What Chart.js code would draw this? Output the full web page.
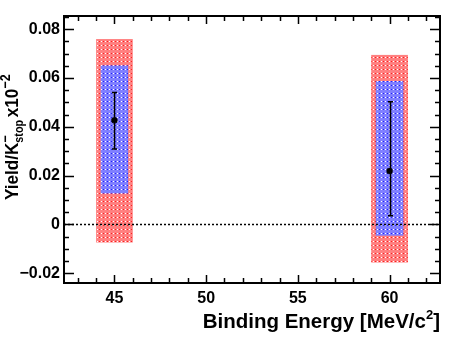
<!DOCTYPE html>
<html>
<head>
<meta charset="utf-8">
<script src="https://cdn.jsdelivr.net/npm/chart.js@4.4.1/dist/chart.umd.min.js"></script>
<style>
  html, body { margin: 0; padding: 0; background: #fff; }
  #wrap { width: 463px; height: 338px; }
</style>
</head>
<body>
<div id="wrap"><canvas id="yieldChart"></canvas></div>
<script>
// binding energies of the two candidates
const energies = [45, 60]
const yields = [0.0427, 0.0219]
const statUp = [0.0114, 0.0284]
const statDown = [0.0118, 0.0183]
// systematic bands (absolute y limits)
const sysOuterTop = [0.0760, 0.0695]
const sysOuterBottom = [-0.0074, -0.0156]
const sysInnerTop = [0.0652, 0.0588]
const sysInnerBottom = [0.0127, -0.0046]
const outerHalfWidth = [1.0, 1.0]
const innerHalfWidth = [0.75, 0.75]

const yTicks = [-0.02, 0, 0.02, 0.04, 0.06, 0.08]
const xTicks = [45, 50, 55, 60]

const FONT = '"Liberation Sans", Arial, Helvetica, sans-serif'

function makePattern(base, dark) {
    const c = document.createElement('canvas')
    c.width = 4; c.height = 4
    const g = c.getContext('2d')
    g.fillStyle = base; g.fillRect(0, 0, 4, 4)
    g.fillStyle = '#ffffff'; g.fillRect(1, 1, 1, 1)
    g.fillStyle = dark; g.fillRect(3, 1, 1, 1)
    return c
}

const boxesPlugin = {
    id: 'boxes',
    beforeDatasetsDraw(chart) {
        const ctx = chart.ctx
        const xs = chart.scales.x, ys = chart.scales.y
        const redPat = ctx.createPattern(makePattern('#ff8080', '#ff2020'), 'repeat')
        const bluePat = ctx.createPattern(makePattern('#8080ff', '#2020ff'), 'repeat')
        ctx.save()
        energies.forEach((e, i) => {
            let x0 = xs.getPixelForValue(e - outerHalfWidth[i])
            let x1 = xs.getPixelForValue(e + outerHalfWidth[i])
            let y0 = ys.getPixelForValue(sysOuterTop[i])
            let y1 = ys.getPixelForValue(sysOuterBottom[i])
            ctx.fillStyle = redPat
            ctx.fillRect(x0, y0, x1 - x0, y1 - y0)
            x0 = xs.getPixelForValue(e - innerHalfWidth[i])
            x1 = xs.getPixelForValue(e + innerHalfWidth[i])
            y0 = ys.getPixelForValue(sysInnerTop[i])
            y1 = ys.getPixelForValue(sysInnerBottom[i])
            ctx.fillStyle = bluePat
            ctx.fillRect(x0, y0, x1 - x0, y1 - y0)
        })
        // dotted zero line
        const yz = Math.round(ys.getPixelForValue(0)) + 0.5
        ctx.strokeStyle = '#000'
        ctx.lineWidth = 1.5
        ctx.setLineDash([2, 2])
        ctx.beginPath()
        ctx.moveTo(chart.chartArea.left, yz)
        ctx.lineTo(chart.chartArea.right, yz)
        ctx.stroke()
        ctx.setLineDash([])
        // stat error bars
        ctx.lineWidth = 1.5
        energies.forEach((e, i) => {
            const x = Math.round(xs.getPixelForValue(e)) + 0.5
            const yt = ys.getPixelForValue(yields[i] + statUp[i])
            const yb = ys.getPixelForValue(yields[i] - statDown[i])
            ctx.beginPath()
            ctx.moveTo(x, yt); ctx.lineTo(x, yb)
            ctx.moveTo(x - 2.5, yt); ctx.lineTo(x + 2.5, yt)
            ctx.moveTo(x - 2.5, yb); ctx.lineTo(x + 2.5, yb)
            ctx.stroke()
        })
        ctx.restore()
    }
}

const framePlugin = {
    id: 'frame',
    afterDraw(chart) {
        const ctx = chart.ctx
        const a = chart.chartArea
        const xs = chart.scales.x, ys = chart.scales.y
        ctx.save()
        ctx.strokeStyle = '#000'
        ctx.lineWidth = 2
        ctx.strokeRect(a.left, a.top, a.right - a.left, a.bottom - a.top)
        ctx.lineWidth = 1.5
        ctx.beginPath()
        // x ticks (major every 5, minor every 1), bottom and top
        for (let v = 43; v <= 62; v++) {
            const x = Math.round(xs.getPixelForValue(v)) + 0.5
            const len = v % 5 === 0 ? 8 : 5
            ctx.moveTo(x, a.bottom); ctx.lineTo(x, a.bottom - len)
            ctx.moveTo(x, a.top); ctx.lineTo(x, a.top + len)
        }
        // y ticks (major every 0.02, minor every 0.005), left and right
        for (let k = -4; k <= 17; k++) {
            const v = k * 0.005
            const y = Math.round(ys.getPixelForValue(v)) + 0.5
            const len = k % 4 === 0 ? 10 : 5
            ctx.moveTo(a.left, y); ctx.lineTo(a.left + len, y)
            ctx.moveTo(a.right, y); ctx.lineTo(a.right - len, y)
        }
        ctx.stroke()

        ctx.fillStyle = '#000'
        // x title: Binding Energy [MeV/c^2], right aligned to the frame
        ctx.textBaseline = 'alphabetic'
        const big = 'bold 20.5px ' + FONT
        const sup = 'bold 13px ' + FONT
        ctx.font = big
        const p1 = 'Binding Energy [MeV/c', p3 = ']'
        const w1 = ctx.measureText(p1).width, w3 = ctx.measureText(p3).width
        ctx.font = sup
        const w2 = ctx.measureText('2').width
        let x = a.right - (w1 + w2 + w3)
        const by = 328
        ctx.font = big; ctx.fillText(p1, x, by); x += w1
        ctx.font = sup; ctx.fillText('2', x, by - 9); x += w2
        ctx.font = big; ctx.fillText(p3, x, by)

        // y title: Yield/K-_stop x10^-2, rotated, aligned to the top
        ctx.translate(18, 200)
        ctx.rotate(-Math.PI / 2)
        ctx.scale(0.9, 1)
        const yb = 'bold 19px ' + FONT
        const ysm = 'bold 12px ' + FONT
        const ysup = 'bold 14px ' + FONT
        let t = 0
        ctx.font = yb; ctx.fillText('Yield/K', t, 0); t += ctx.measureText('Yield/K').width
        ctx.font = ysup; ctx.fillText('\u2212', t, -8)
        ctx.font = ysm; ctx.fillText('stop', t, 5); t += ctx.measureText('stop').width + 3
        ctx.font = yb; ctx.fillText('x10', t, 0); t += ctx.measureText('x10').width
        ctx.font = ysup; ctx.fillText('\u22122', t, -8)
        ctx.restore()
    }
}

const chart = new Chart(document.getElementById('yieldChart'), {
    type: 'scatter',
    data: {
        datasets: [{
            data: energies.map((e, i) => ({x: e, y: yields[i]})),
            backgroundColor: '#000',
            borderColor: '#000',
            pointStyle: 'rectRounded',
            pointRadius: 3,
        }]
    },
    options: {
        responsive: true,
        maintainAspectRatio: false,
        animation: false,
        layout: { padding: { top: 16, right: 23, left: 0, bottom: 0 } },
        plugins: { legend: { display: false }, tooltip: { enabled: false } },
        scales: {
            x: {
                type: 'linear',
                min: 42.25,
                max: 62.75,
                afterBuildTicks: s => { s.ticks = xTicks.map(v => ({value: v})) },
                afterFit: s => { s.height = 55 },
                grid: { display: false, drawTicks: false },
                border: { display: false },
                ticks: {
                    padding: 6,
                    color: '#000',
                    maxRotation: 0,
                    font: { family: FONT, size: 16, weight: 'bold' },
                },
            },
            y: {
                type: 'linear',
                min: -0.024,
                max: 0.08545,
                afterBuildTicks: s => { s.ticks = yTicks.map(v => ({value: v})) },
                afterFit: s => { s.width = 64 },
                grid: { display: false, drawTicks: false },
                border: { display: false },
                ticks: {
                    padding: 4,
                    color: '#000',
                    font: { family: FONT, size: 16, weight: 'bold' },
                    callback: v => v === 0 ? '0' : (v < 0 ? '\u2212' + Math.abs(v).toFixed(2) : v.toFixed(2)),
                },
            },
        },
    },
    plugins: [boxesPlugin, framePlugin],
})
</script>
</body>
</html>
